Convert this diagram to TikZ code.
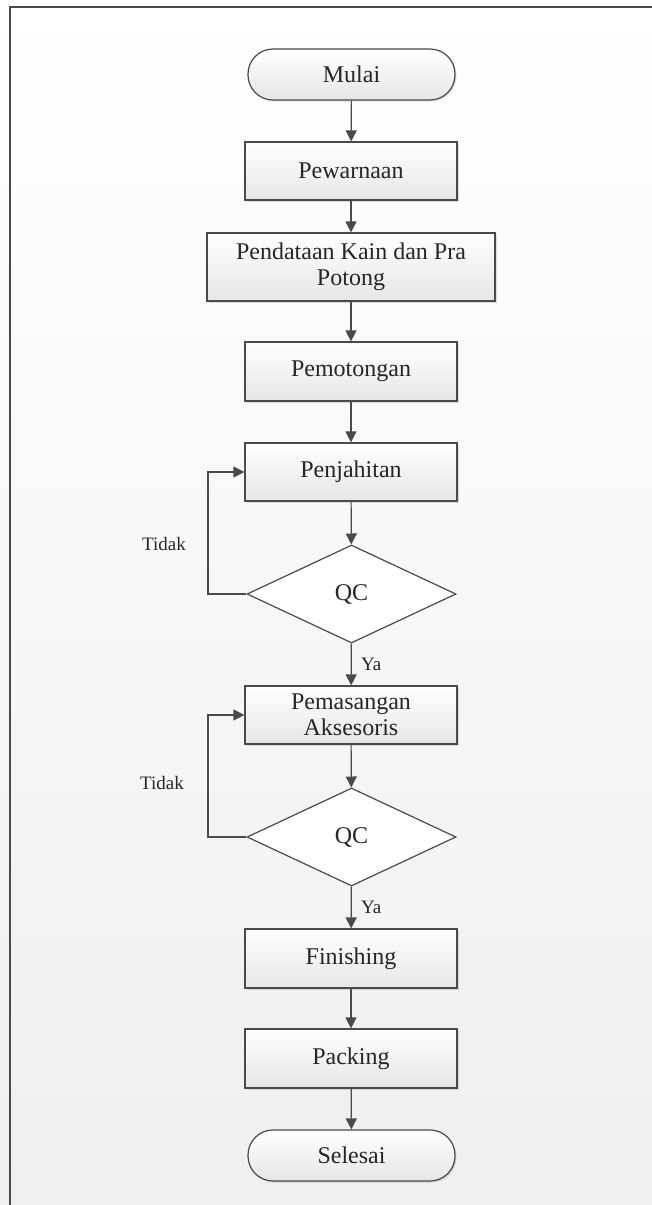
\documentclass[tikz,border=0pt]{standalone}
\usepackage{fontspec}
\setmainfont{Liberation Serif}
\usetikzlibrary{shapes.geometric,arrows.meta,shadows}
\definecolor{linec}{HTML}{4A4A4A}
\definecolor{boxbot}{HTML}{E6E6E6}
\definecolor{bgbot}{HTML}{EFEFEF}
\begin{document}
\begin{tikzpicture}[x=1pt,y=-1pt,
  base/.style={draw=linec,line width=1.2pt,top color=white,bottom color=boxbot,
    font=\fontsize{24}{26}\selectfont,text=black!85,align=center,inner sep=0pt,
    drop shadow={shadow xshift=1.5pt,shadow yshift=-1.5pt,opacity=0.25}},
  procbox/.style={base,rectangle,minimum width=212pt,minimum height=58pt},
  termbox/.style={base,rectangle,rounded corners=25pt,minimum width=207pt,minimum height=51pt},
  decbox/.style={draw=linec,line width=1.2pt,fill=white,diamond,minimum width=209pt,minimum height=98pt,
    inner sep=0pt,font=\fontsize{24}{26}\selectfont,text=black!85},
  arr/.style={draw=linec,line width=1.2pt,-{Triangle[length=11pt,width=11pt]}},
  lbl/.style={font=\fontsize{19}{21}\selectfont,text=black!85}]
\useasboundingbox (0,0) rectangle (652,1205);
\shade[top color=white,bottom color=bgbot] (0,0) rectangle (652,1205);
\draw[linec,line width=1.6pt] (652,7) -- (10,7) -- (10,1205);

\node[termbox] (mulai) at (351.5,74.5) {Mulai};
\node[procbox] (pew) at (351,171) {Pewarnaan};
\node[procbox,minimum width=288pt,minimum height=68pt] (pend) at (351,267) {Pendataan Kain dan Pra\\Potong};
\node[procbox,minimum height=59pt] (pemo) at (351,371.5) {Pemotongan};
\node[procbox] (penj) at (351,472) {Penjahitan};
\node[decbox] (qc1) at (351.5,594) {QC};
\node[procbox] (pema) at (351,715) {Pemasangan\\Aksesoris};
\node[decbox] (qc2) at (351.5,837) {QC};
\node[procbox,minimum height=59pt] (fin) at (351,958.5) {Finishing};
\node[procbox,minimum height=59pt] (pack) at (351,1058.5) {Packing};
\node[termbox] (sel) at (351.5,1155.5) {Selesai};

\coordinate (loopa) at (208,594);
\coordinate (loopb) at (208,837);

\draw[arr] (mulai) -- (pew);
\draw[arr] (pew) -- (pend);
\draw[arr] (pend) -- (pemo);
\draw[arr] (pemo) -- (penj);
\draw[arr] (penj) -- (qc1);
\draw[arr] (qc1) -- node[lbl,right=6pt,pos=0.5] (ya1) {Ya} (pema);
\draw[arr] (pema) -- (qc2);
\draw[arr] (qc2) -- node[lbl,right=6pt,pos=0.5] (ya2) {Ya} (fin);
\draw[arr] (fin) -- (pack);
\draw[arr] (pack) -- (sel);
\draw[arr] (qc1.west) -- (loopa) |- (penj.west);
\draw[arr] (qc2.west) -- (loopb) |- (pema.west);

\node[lbl] (tidak1) at (164,544) {Tidak};
\node[lbl] (tidak2) at (162,783) {Tidak};
\end{tikzpicture}
\end{document}
